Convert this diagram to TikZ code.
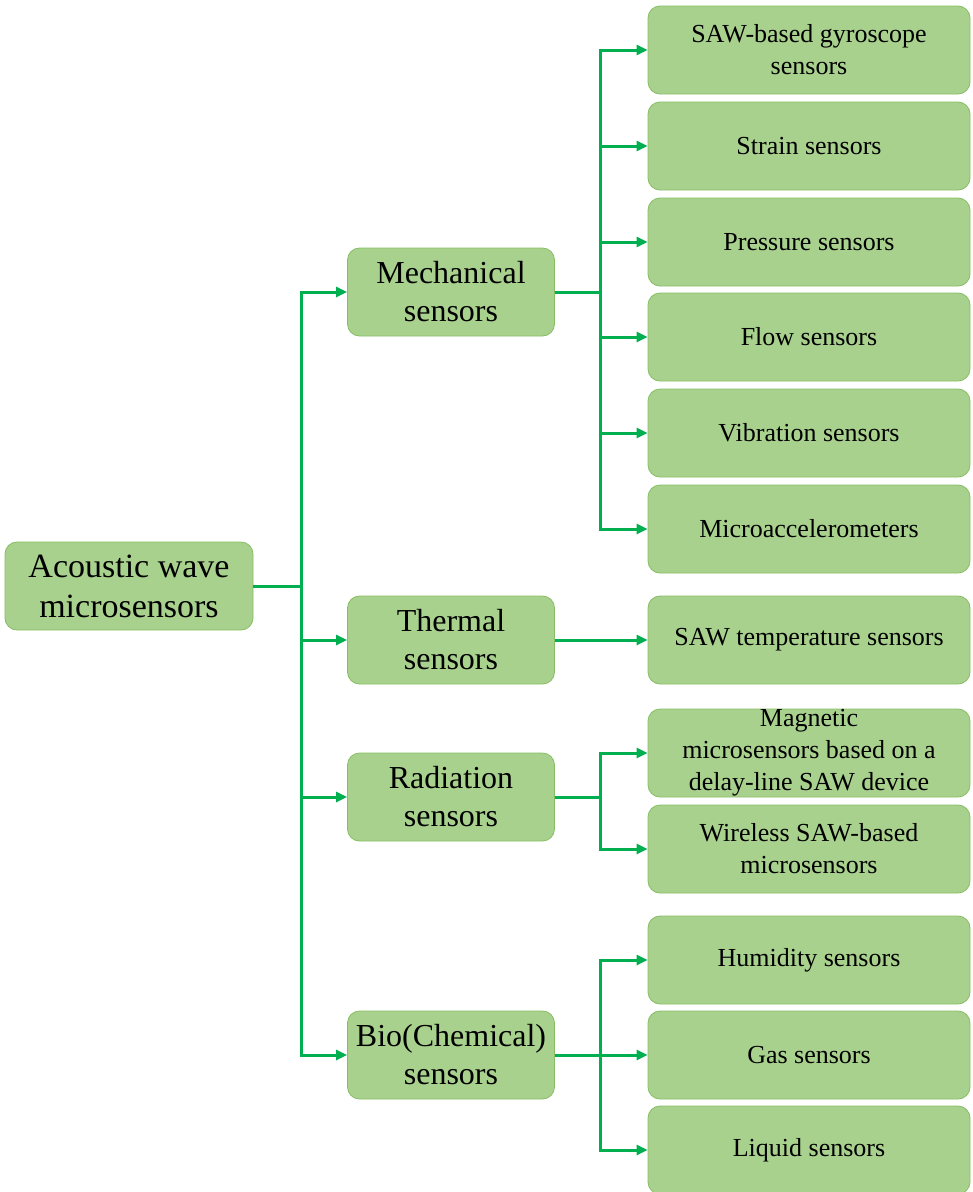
\documentclass[tikz,border=0pt]{standalone}
\usepackage{fontspec}
\setmainfont{Liberation Serif}
\usetikzlibrary{arrows.meta}
\definecolor{boxfill}{HTML}{A9D18E}
\definecolor{boxline}{HTML}{86BE63}
\definecolor{linkgreen}{HTML}{00B050}
\begin{document}
\begin{tikzpicture}[x=1pt,y=-1pt,
  box/.style={draw=boxline, fill=boxfill, rounded corners=12pt, line width=0.8pt, inner sep=0pt, align=center, text=black},
  mainbox/.style={box, minimum width=207pt, minimum height=88pt, font=\fontsize{32}{38}\selectfont},
  leaf/.style={box, minimum width=322pt, minimum height=88pt, font=\fontsize{26}{32}\selectfont},
  link/.style={draw=linkgreen, line width=3pt},
  arr/.style={link, -{Triangle[length=11pt,width=10pt]}}]
\useasboundingbox (0,0) rectangle (973,1192);
\fill[white] (0,0) rectangle (973,1192);

\node[box, minimum width=248pt, minimum height=88pt, font=\fontsize{34}{40}\selectfont] (root) at (129,586) {Acoustic wave\\microsensors};

\node[mainbox] (mech) at (451,292) {Mechanical\\sensors};
\node[mainbox] (therm) at (451,640) {Thermal\\sensors};
\node[mainbox] (rad) at (451,797) {Radiation\\sensors};
\node[mainbox] (bio) at (451,1055) {Bio(Chemical)\\sensors};

\node[leaf] (gyro) at (809,50) {SAW-based gyroscope\\sensors};
\node[leaf] (strain) at (809,146) {Strain sensors};
\node[leaf] (press) at (809,242) {Pressure sensors};
\node[leaf] (flow) at (809,337) {Flow sensors};
\node[leaf] (vib) at (809,433) {Vibration sensors};
\node[leaf] (acc) at (809,529) {Microaccelerometers};
\node[leaf] (temp) at (809,640) {SAW temperature sensors};
\node[leaf] (mag) at (809,753) {Magnetic\\microsensors based on a\\delay-line SAW device};
\node[leaf] (wire) at (809,849) {Wireless SAW-based\\microsensors};
\node[leaf] (hum) at (809,960) {Humidity sensors};
\node[leaf] (gas) at (809,1055) {Gas sensors};
\node[leaf] (liq) at (809,1150) {Liquid sensors};

% root to first level
\foreach \c in {mech,therm,rad,bio}
  \draw[arr] (root.east) -- ++(48,0) |- (\c.west);

% mechanical
\foreach \c in {gyro,strain,press,flow,vib,acc}
  \draw[arr] (mech.east) -- ++(46,0) |- (\c.west);

% thermal
\draw[arr] (therm.east) -- (temp.west);

% radiation
\foreach \c in {mag,wire}
  \draw[arr] (rad.east) -- ++(46,0) |- (\c.west);

% bio
\foreach \c in {hum,gas,liq}
  \draw[arr] (bio.east) -- ++(46,0) |- (\c.west);
\end{tikzpicture}
\end{document}
